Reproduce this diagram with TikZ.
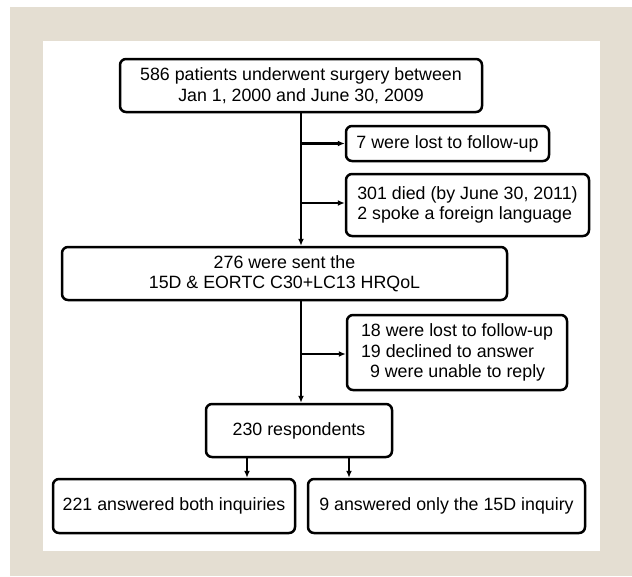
\documentclass[tikz,border=0pt]{standalone}
\usepackage{fontspec}
\setmainfont{Liberation Sans}
\usetikzlibrary{arrows.meta}
\definecolor{frame}{RGB}{228,222,210}
\begin{document}
\begin{tikzpicture}[x=1pt,y=-1pt,
		box/.style={draw,line width=2.5pt,rounded corners=6pt,inner sep=0pt,
			font=\fontsize{17.8}{20.5}\selectfont},
		arr/.style={line width=2.2pt,-{Latex[length=7pt,width=6pt]}}]
		\useasboundingbox (0,0) rectangle (632,576);
		\fill[frame] (10,7) rectangle (632,576);
		\fill[white] (43,41) rectangle (600,551);
		\node[box,minimum width=362pt,minimum height=53pt,align=center] (first) at (301,85.5)
			{586 patients underwent surgery between\\Jan 1, 2000 and June 30, 2009};
		\node[box,minimum width=203pt,minimum height=35pt] (lost) at (447.5,143.5)
			{7 were lost to follow-up};
		\node[box,minimum width=243pt,minimum height=62pt,align=left] (died) at (467.5,205)
			{301 died (by June 30, 2011)\\2 spoke a foreign language};
		\node[box,minimum width=445pt,minimum height=53pt,align=center] (sent) at (284.5,273.5)
			{276 were sent the\\15D \& EORTC C30+LC13 HRQoL};
		\node[box,minimum width=220pt,minimum height=75pt,align=left] (excl) at (457,352.5)
			{18 were lost to follow-up\\19 declined to answer\\\hspace*{9pt}9 were unable to reply};
		\node[box,minimum width=186pt,minimum height=53pt] (resp) at (299,430.5)
			{230 respondents};
		\node[box,minimum width=242pt,minimum height=54pt] (both) at (174,506)
			{221 answered both inquiries};
		\node[box,minimum width=277pt,minimum height=54pt] (only) at (446.5,506)
			{9 answered only the 15D inquiry};
		%connecteurs
		\draw[arr] (first.south) -- (first.south |- sent.north);
		\draw[arr] (first.south |- lost.west) -- (lost.west);
		\draw[arr] (first.south |- 0,203) -- (died.west |- 0,203);
		\draw[arr] (first.south |- sent.south) -- (first.south |- resp.north);
		\draw[arr] (first.south |- 0,354) -- (excl.west |- 0,354);
		\draw[arr] ([xshift=-52pt]resp.south) -- ([xshift=-52pt]resp.south |- both.north);
		\draw[arr] ([xshift=50pt]resp.south) -- ([xshift=50pt]resp.south |- only.north);
	\end{tikzpicture}
\end{document}
